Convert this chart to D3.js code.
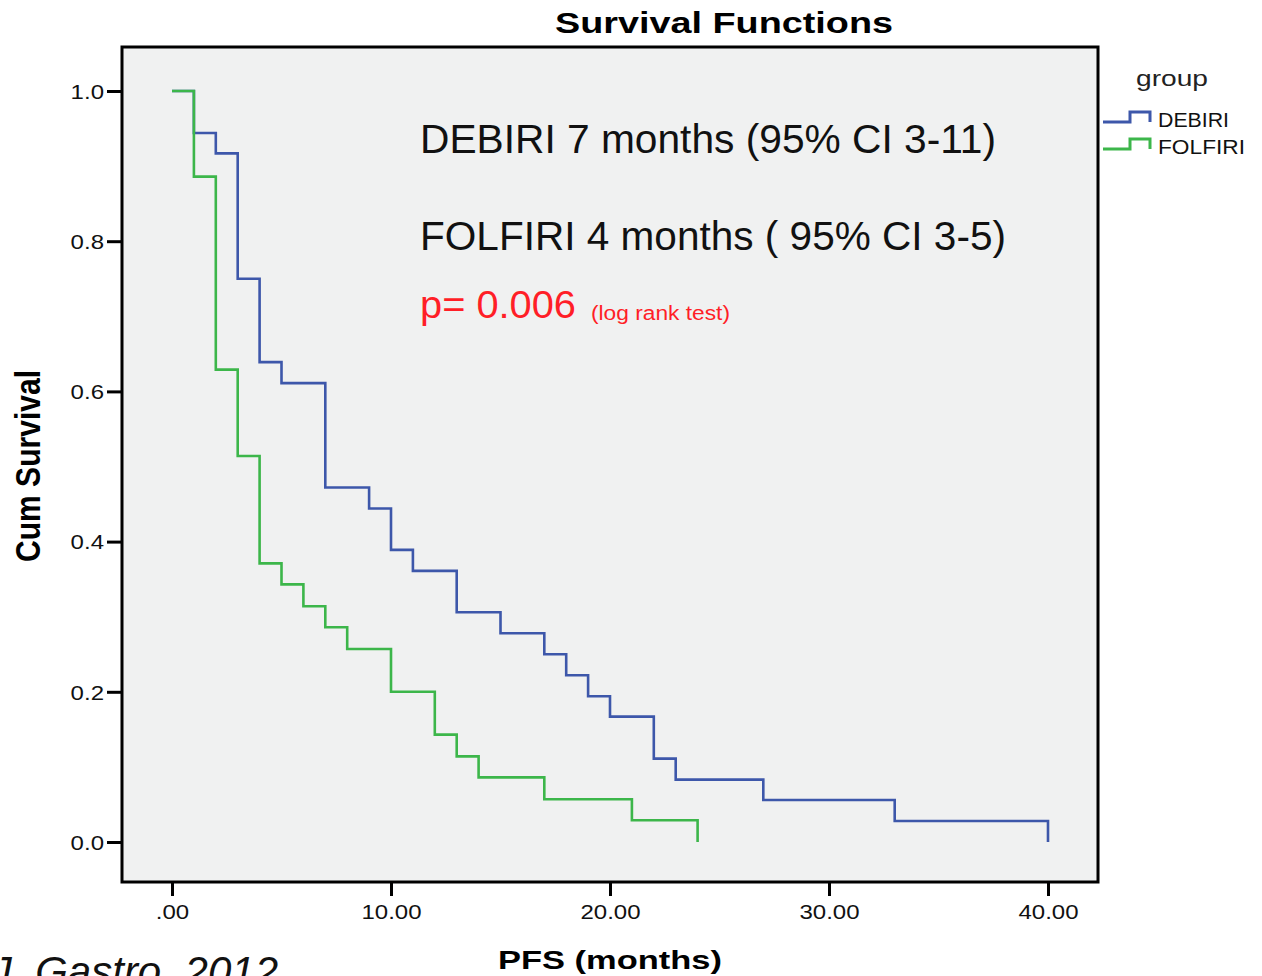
<!DOCTYPE html>
<html>
<head>
<meta charset="utf-8">
<script src="https://cdn.jsdelivr.net/npm/d3@7/dist/d3.min.js"></script>
<style>
  body { margin: 0; background: #fff; }
  text { font-family: "Liberation Sans", Arial, sans-serif; }
</style>
</head>
<body>
<svg width="1262" height="976"></svg>
<script>
// Kaplan-Meier steps (time in months, cum survival)
const groups = ["DEBIRI", "FOLFIRI"];
const groupColors = ["#3d57aa", "#3cb64a"];

const debiriTime = [0, 1, 2, 3, 4, 5, 7, 9, 10, 11, 13, 15, 17, 18, 19, 20, 22, 23, 27, 33, 40];
const debiriSurv = [1.0, 0.944, 0.917, 0.750, 0.639, 0.611, 0.472, 0.444, 0.389, 0.361, 0.306,
                    0.278, 0.250, 0.222, 0.194, 0.167, 0.111, 0.083, 0.056, 0.028, 0.0];

const folfiriTime = [0, 1, 2, 3, 4, 5, 6, 7, 8, 10, 12, 13, 14, 17, 21, 24];
const folfiriSurv = [1.0, 0.886, 0.629, 0.514, 0.371, 0.343, 0.314, 0.286, 0.257, 0.200,
                     0.143, 0.114, 0.086, 0.057, 0.029, 0.0];

const xTicks = [0, 10, 20, 30, 40];
const xTickLabels = [".00", "10.00", "20.00", "30.00", "40.00"];
const yTicks = [0, 0.2, 0.4, 0.6, 0.8, 1.0];
const yTickLabels = ["0.0", "0.2", "0.4", "0.6", "0.8", "1.0"];

const svg = d3.select("svg");
const frame = {left: 122, top: 47, right: 1098, bottom: 882};
const SX = 1.2; // the SPSS chart is stretched sideways

let x = d3.scaleLinear().domain([0, 40]).range([172, 1048]);
let y = d3.scaleLinear().domain([0, 1]).range([842, 91]);

function stretch(sel, k) {
    sel.each(function () {
        let w = this.getComputedTextLength();
        d3.select(this).attr("textLength", w * k).attr("lengthAdjust", "spacingAndGlyphs");
    });
}

// plot area
svg.append("rect")
    .attr("x", frame.left).attr("y", frame.top)
    .attr("width", frame.right - frame.left)
    .attr("height", frame.bottom - frame.top)
    .attr("fill", "#f0f1f1")
    .attr("stroke", "#000")
    .attr("stroke-width", 3);

// axes
let xAxis = svg.append("g")
    .attr("transform", "translate(0," + frame.bottom + ")")
    .call(d3.axisBottom(x).tickValues(xTicks).tickSize(14).tickPadding(9)
        .tickFormat((d, i) => xTickLabels[i]));

let yAxis = svg.append("g")
    .attr("transform", "translate(" + frame.left + ",0)")
    .call(d3.axisLeft(y).tickValues(yTicks).tickSize(15).tickPadding(3)
        .tickFormat((d, i) => yTickLabels[i]));

[xAxis, yAxis].forEach(a => {
    a.select(".domain").remove();
    a.selectAll(".tick line").attr("stroke", "#000").attr("stroke-width", 3);
    a.selectAll(".tick text")
        .attr("fill", "#111")
        .style("font-size", "20px")
        .style("font-family", '"Liberation Sans", Arial, sans-serif');
});
yAxis.selectAll(".tick text").attr("dy", "0.36em");
stretch(xAxis.selectAll(".tick text"), SX);
stretch(yAxis.selectAll(".tick text"), SX);

// survival curves
let line = d3.line()
    .x(d => x(d[0]))
    .y(d => y(d[1]))
    .curve(d3.curveStepAfter);

let series = [
    d3.zip(debiriTime, debiriSurv),
    d3.zip(folfiriTime, folfiriSurv)
];

svg.selectAll(".curve")
    .data(series)
    .enter().append("path")
    .attr("class", "curve")
    .attr("d", line)
    .attr("fill", "none")
    .attr("stroke", (d, i) => groupColors[i])
    .attr("stroke-width", 2.6);

// title and axis labels
svg.append("text")
    .attr("x", 724).attr("y", 33)
    .attr("text-anchor", "middle")
    .style("font-size", "29px").style("font-weight", "bold")
    .attr("textLength", 338).attr("lengthAdjust", "spacingAndGlyphs")
    .text("Survival Functions");

svg.append("text")
    .attr("x", 610).attr("y", 969)
    .attr("text-anchor", "middle")
    .style("font-size", "26px").style("font-weight", "bold")
    .attr("textLength", 224).attr("lengthAdjust", "spacingAndGlyphs")
    .text("PFS (months)");

svg.append("text")
    .attr("transform", "translate(40,466) scale(" + SX + ",1) rotate(-90)")
    .attr("text-anchor", "middle")
    .style("font-size", "29px").style("font-weight", "bold")
    .attr("textLength", 192).attr("lengthAdjust", "spacingAndGlyphs")
    .text("Cum Survival");

// legend
svg.append("text")
    .attr("x", 1136).attr("y", 86)
    .style("font-size", "22px").attr("fill", "#222")
    .attr("textLength", 72).attr("lengthAdjust", "spacingAndGlyphs")
    .text("group");

let legend = svg.selectAll(".legend")
    .data(groups)
    .enter().append("g")
    .attr("class", "legend")
    .attr("transform", (d, i) => "translate(1103," + (122 + i * 27) + ")");

legend.append("path")
    .attr("d", "M0,0H27V-10H47V0")
    .attr("fill", "none")
    .attr("stroke", (d, i) => groupColors[i])
    .attr("stroke-width", 3);

legend.append("text")
    .attr("x", 55).attr("y", 5)
    .style("font-size", "20px").attr("fill", "#111")
    .attr("textLength", (d, i) => i === 0 ? 71 : 87)
    .attr("lengthAdjust", "spacingAndGlyphs")
    .text(d => d);

// annotations
svg.append("text")
    .attr("x", 420).attr("y", 153)
    .style("font-size", "40px").attr("fill", "#111")
    .attr("textLength", 576).attr("lengthAdjust", "spacingAndGlyphs")
    .text("DEBIRI 7 months (95% CI 3-11)");

svg.append("text")
    .attr("x", 420).attr("y", 250)
    .style("font-size", "40px").attr("fill", "#111")
    .attr("textLength", 586).attr("lengthAdjust", "spacingAndGlyphs")
    .text("FOLFIRI 4 months ( 95% CI 3-5)");

svg.append("text")
    .attr("x", 420).attr("y", 318)
    .style("font-size", "38px").attr("fill", "#ff1e27")
    .attr("textLength", 156).attr("lengthAdjust", "spacingAndGlyphs")
    .text("p= 0.006");

svg.append("text")
    .attr("x", 591).attr("y", 320)
    .style("font-size", "20px").attr("fill", "#ff1e27")
    .attr("textLength", 139).attr("lengthAdjust", "spacingAndGlyphs")
    .text("(log rank test)");

// source note, cut by the page edge
svg.append("text")
    .attr("x", 278).attr("y", 986)
    .attr("text-anchor", "end")
    .style("font-size", "42px").style("font-style", "italic")
    .attr("fill", "#111")
    .text("J. Gastro. 2012");
</script>
</body>
</html>
